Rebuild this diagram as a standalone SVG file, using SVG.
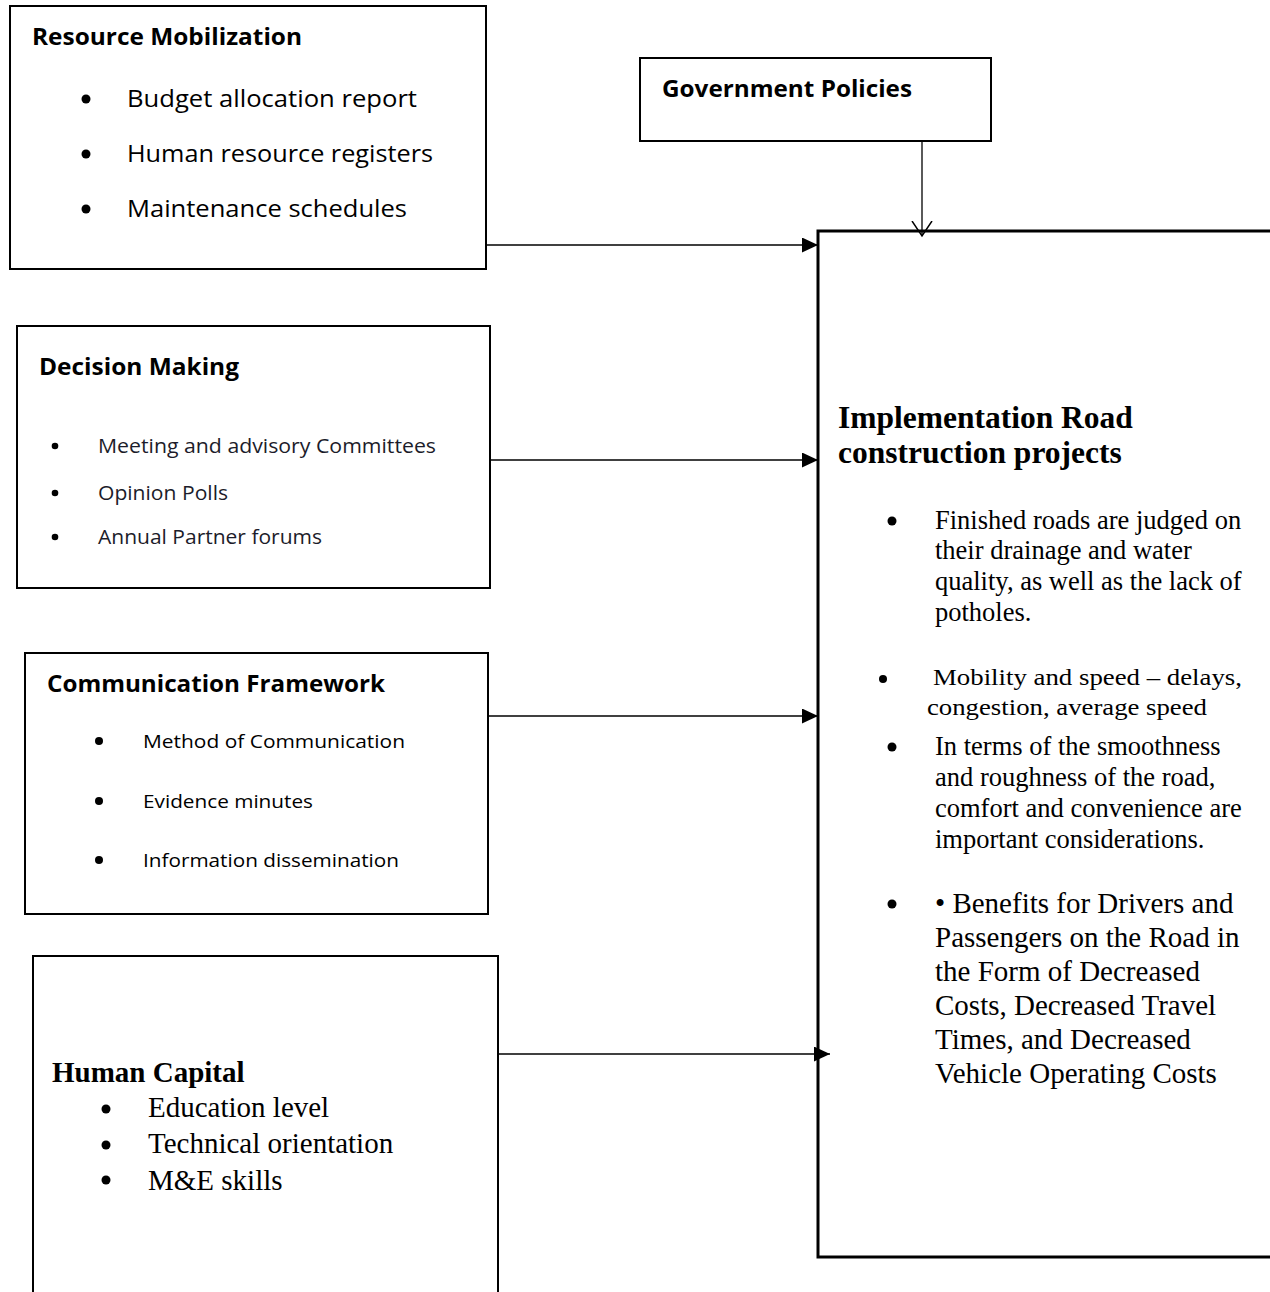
<svg xmlns="http://www.w3.org/2000/svg" width="1270" height="1292" viewBox="0 0 1270 1292">
<style>
.box{fill:#fff;stroke:#000;stroke-width:2}
.big{fill:#fff;stroke:#000;stroke-width:3}
.ttl{font-family:"Open Sans","Liberation Sans",sans-serif;font-weight:bold;font-size:24px;fill:#000}
.cal{font-family:"Open Sans","Liberation Sans",sans-serif;font-size:23px;fill:#000}
.seg{font-family:"Open Sans","Liberation Sans",sans-serif;font-size:20px;fill:#1c1c2a}
.cal2{font-family:"Open Sans","Liberation Sans",sans-serif;font-size:19px;fill:#000}
.tnr{font-family:"Liberation Serif","Times New Roman",serif;fill:#000}
.tb{font-family:"Liberation Serif","Times New Roman",serif;font-weight:bold;fill:#000}
.conn{stroke:#000;stroke-width:1.3;fill:none}
.dot{fill:#000}
</style>
<defs>
<marker id="tri" markerUnits="userSpaceOnUse" markerWidth="17" markerHeight="16" refX="16" refY="7.5" orient="auto">
<path d="M0,0 L16,7.5 L0,15 z" fill="#000"/>
</marker>
<marker id="vee" markerUnits="userSpaceOnUse" markerWidth="18" markerHeight="24" refX="15" refY="10.5" orient="auto">
<path d="M0,0.5 L15,10.5 L0,20.5" fill="none" stroke="#000" stroke-width="1.5"/>
</marker>
</defs>

<g id="impl">
<rect class="big" x="818" y="231" width="480" height="1026"/>
<text class="tb" x="838" y="428" font-size="31.5">Implementation Road</text>
<text class="tb" x="838" y="463" font-size="31.5">construction projects</text>
<circle class="dot" cx="892" cy="521" r="4.5"/>
<text class="tnr" font-size="26.5"><tspan x="935" y="529">Finished roads are judged on</tspan><tspan x="935" y="559">their drainage and water</tspan><tspan x="935" y="590">quality, as well as the lack of</tspan><tspan x="935" y="621">potholes.</tspan></text>
<circle class="dot" cx="883" cy="679" r="4"/>
<text class="tnr" font-size="23" x="933" y="685" textLength="309" lengthAdjust="spacingAndGlyphs" fill="#1a1410">Mobility and speed – delays,</text>
<text class="tnr" font-size="23" x="927" y="715" textLength="280" lengthAdjust="spacingAndGlyphs" fill="#1a1410">congestion, average speed</text>
<circle class="dot" cx="892" cy="747" r="4.5"/>
<text class="tnr" font-size="26.5"><tspan x="935" y="755">In terms of the smoothness</tspan><tspan x="935" y="786">and roughness of the road,</tspan><tspan x="935" y="817">comfort and convenience are</tspan><tspan x="935" y="848">important considerations.</tspan></text>
<circle class="dot" cx="892" cy="904" r="4.5"/>
<text class="tnr" font-size="29"><tspan x="935" y="913">• Benefits for Drivers and</tspan><tspan x="935" y="947">Passengers on the Road in</tspan><tspan x="935" y="981">the Form of Decreased</tspan><tspan x="935" y="1015">Costs, Decreased Travel</tspan><tspan x="935" y="1049">Times, and Decreased</tspan><tspan x="935" y="1083">Vehicle Operating Costs</tspan></text>
</g>

<g id="resource">
<rect class="box" x="10" y="6" width="476" height="263"/>
<text class="ttl" x="32" y="45" textLength="270" lengthAdjust="spacingAndGlyphs">Resource Mobilization</text>
<circle class="dot" cx="86" cy="99" r="4.5"/>
<circle class="dot" cx="86" cy="154" r="4.5"/>
<circle class="dot" cx="86" cy="209" r="4.5"/>
<text class="cal" x="127" y="107" textLength="290" lengthAdjust="spacingAndGlyphs">Budget allocation report</text>
<text class="cal" x="127" y="162" textLength="306" lengthAdjust="spacingAndGlyphs">Human resource registers</text>
<text class="cal" x="127" y="217" textLength="280" lengthAdjust="spacingAndGlyphs">Maintenance schedules</text>
</g>

<g id="government">
<rect class="box" x="640" y="58" width="351" height="83"/>
<text class="ttl" x="662" y="97" textLength="250" lengthAdjust="spacingAndGlyphs">Government Policies</text>
</g>

<g id="decision">
<rect class="box" x="17" y="326" width="473" height="262"/>
<text class="ttl" x="39" y="375" textLength="200" lengthAdjust="spacingAndGlyphs">Decision Making</text>
<circle class="dot" cx="55" cy="446" r="3.3"/>
<circle class="dot" cx="55" cy="493" r="3.3"/>
<circle class="dot" cx="55" cy="537" r="3.3"/>
<text class="seg" x="98" y="453" textLength="338" lengthAdjust="spacingAndGlyphs">Meeting and advisory Committees</text>
<text class="seg" x="98" y="500" textLength="130" lengthAdjust="spacingAndGlyphs">Opinion Polls</text>
<text class="seg" x="98" y="544" textLength="224" lengthAdjust="spacingAndGlyphs">Annual Partner forums</text>
</g>

<g id="communication">
<rect class="box" x="25" y="653" width="463" height="261"/>
<text class="ttl" x="47" y="692" textLength="338" lengthAdjust="spacingAndGlyphs">Communication Framework</text>
<circle class="dot" cx="99" cy="741" r="4"/>
<circle class="dot" cx="99" cy="801" r="4"/>
<circle class="dot" cx="99" cy="860" r="4"/>
<text class="cal2" x="143" y="748" textLength="262" lengthAdjust="spacingAndGlyphs">Method of Communication</text>
<text class="cal2" x="143" y="808" textLength="170" lengthAdjust="spacingAndGlyphs">Evidence minutes</text>
<text class="cal2" x="143" y="867" textLength="256" lengthAdjust="spacingAndGlyphs">Information dissemination</text>
</g>

<g id="human">
<rect class="box" x="33" y="956" width="465" height="360"/>
<text class="tb" x="52" y="1082" font-size="29">Human Capital</text>
<circle class="dot" cx="106" cy="1109" r="4.5"/>
<circle class="dot" cx="106" cy="1145" r="4.5"/>
<circle class="dot" cx="106" cy="1180" r="4.5"/>
<text class="tnr" font-size="29" x="148" y="1117">Education level</text>
<text class="tnr" font-size="29" x="148" y="1153">Technical orientation</text>
<text class="tnr" font-size="29" x="148" y="1190">M&amp;E skills</text>
</g>

<g id="connectors">
<line class="conn" x1="922" y1="141" x2="922" y2="236" marker-end="url(#vee)"/>
<line class="conn" x1="486" y1="245" x2="818" y2="245" marker-end="url(#tri)"/>
<line class="conn" x1="490" y1="460" x2="818" y2="460" marker-end="url(#tri)"/>
<line class="conn" x1="488" y1="716" x2="818" y2="716" marker-end="url(#tri)"/>
<line class="conn" x1="498" y1="1054" x2="830" y2="1054" marker-end="url(#tri)"/>
</g>
</svg>
